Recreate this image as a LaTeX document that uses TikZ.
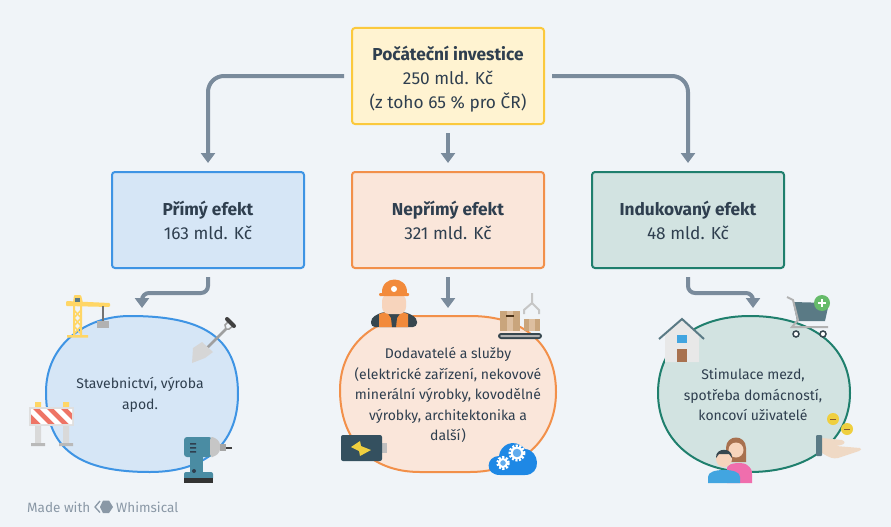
\documentclass[tikz,border=0pt]{standalone}
\usepackage{fontspec}
\setmainfont{Fira Sans}
\usetikzlibrary{arrows.meta,calc}
\definecolor{bg}{HTML}{F0F4F8}
\definecolor{ink}{HTML}{2F3F4F}
\definecolor{conn}{HTML}{7A8B9C}
\definecolor{slate}{HTML}{5A7A85}
\definecolor{peach}{HTML}{F7D4BC}
\definecolor{yb}{HTML}{FBC93D}\definecolor{yf}{HTML}{FFF3D1}
\definecolor{bb}{HTML}{3E94E4}\definecolor{bf}{HTML}{D6E6F6}
\definecolor{ob}{HTML}{F2904A}\definecolor{of}{HTML}{FAE6DA}
\definecolor{tb}{HTML}{1F7F6D}\definecolor{tf}{HTML}{D2E3E1}
\definecolor{crane}{HTML}{FFD666}
\definecolor{drill}{HTML}{4A8CA3}
\definecolor{barred}{HTML}{EE7465}
\definecolor{cloudc}{HTML}{1E88E5}
\definecolor{hair}{HTML}{A8714F}
\definecolor{pinkc}{HTML}{F06EAD}
\definecolor{bluec}{HTML}{42A5E0}
\definecolor{cardb}{HTML}{C9A57C}
\definecolor{tape}{HTML}{DDBFA0}
\definecolor{battc}{HTML}{34505F}
\definecolor{vest}{HTML}{F28A3B}
\definecolor{darkc}{HTML}{37474F}
\definecolor{greenc}{HTML}{66BB6A}
\definecolor{hand}{HTML}{EFD9C5}
\definecolor{coin}{HTML}{EFCF3F}
\definecolor{foot}{HTML}{8A98A6}
\tikzset{
  box/.style={draw,rounded corners=3pt,line width=2pt,minimum width=192pt,minimum height=96pt,inner sep=0pt,align=center,text=ink,font=\fontsize{17.3}{24}\selectfont},
  blobtext/.style={text=ink,align=center,inner sep=0pt,font=\fontsize{14}{20.5}\selectfont},
  blobline/.style={line width=2pt},
  link/.style={draw=conn,line width=4pt,rounded corners=16pt,-{Triangle[width=14pt,length=10pt]}},
  shortlink/.style={link,rounded corners=7pt},
  whim/.style={text=foot,font=\fontsize{13.5}{15}\selectfont,inner sep=0pt,anchor=west},
}
\begin{document}
\begin{tikzpicture}[x=1pt,y=-1pt]
\useasboundingbox (0,0) rectangle (891,527);
\fill[bg] (0,0) rectangle (891,527);
% boxes
\node[box,draw=yb,fill=yf] (top) at (448,76) {\rule{0pt}{20pt}\textbf{Počáteční investice}\\250 mld. Kč\\(z toho 65 \% pro ČR)};
\node[box,draw=bb,fill=bf] (prim) at (208,220) {\textbf{Přímý efekt}\\163 mld. Kč};
\node[box,draw=ob,fill=of] (nepr) at (448,220) {\textbf{Nepřímý efekt}\\321 mld. Kč};
\node[box,draw=tb,fill=tf] (indu) at (688,220) {\textbf{Indukovaný efekt}\\48 mld. Kč};
% blobs
\fill[bf,draw=bb,blobline] (46,392) .. controls (46,345) and (85,316) .. (130,316) .. controls (200,316) and (238,335) .. (238,394) .. controls (238,438) and (212,472) .. (150,472) .. controls (80,472) and (46,450) .. (46,392) -- cycle;
\fill[of,draw=ob,blobline] (340,390) .. controls (340,345) and (375,316) .. (420,316) -- (470,316) .. controls (525,316) and (556,345) .. (556,392) .. controls (556,440) and (520,472) .. (470,472) -- (420,472) .. controls (370,472) and (340,440) .. (340,390) -- cycle;
\fill[tf,draw=tb,blobline] (658,393) .. controls (658,345) and (695,316) .. (750,316) .. controls (810,316) and (850,345) .. (850,393) .. controls (850,440) and (810,472) .. (750,472) .. controls (695,472) and (658,440) .. (658,393) -- cycle;
\node[blobtext] (tL) at (140,395) {Stavebnictví, výroba\\apod.};
\node[blobtext] (tM) at (448,395) {Dodavatelé a služby~\\(elektrické zařízení, nekovové\\minerální výrobky, kovodělné\\výrobky, architektonika a~\\další)};
\node[blobtext] (tR) at (753,395) {Stimulace mezd,\\spotřeba domácností,\\koncoví uživatelé};
% connectors
\coordinate (endL) at (142,308);
\coordinate (endM) at (448,308);
\coordinate (endR) at (753,308);
\draw[link] ([xshift=-7pt]top.west) -| ([yshift=8pt]prim.north);
\draw[link] ([yshift=-8pt]top.south) -- ([yshift=8pt]nepr.north);
\draw[link] ([xshift=7pt]top.east) -| ([yshift=8pt]indu.north);
\draw[shortlink] ([yshift=-8pt]prim.south) |- ($(prim.south)+(-33,24)$) -| (endL);
\draw[link] ([yshift=-8pt]nepr.south) -- (endM);
\draw[shortlink] ([yshift=-8pt]indu.south) |- ($(indu.south)+(32,24)$) -| (endR);
% crane
\fill[crane] (73,305) rectangle (75,337) (80,305) rectangle (82,337) (67,335) rectangle (88,337.5);
\draw[crane,line width=1.5pt] (74,310)--(81,318)--(74,326)--(81,334) (81,310)--(74,318)--(81,326)--(74,334);
\fill[crane,rounded corners=1pt] (66,301) -- (110,303) -- (110,307) -- (66,306) -- cycle (73,303) -- (74,295) -- (81,295) -- (83,303) -- cycle;
\fill[slate] (75,298) rectangle (80,302);
\draw[gray!90!black,line width=1.5pt] (103,306) -- (103,322);
\fill[gray!60] (97,321) rectangle (109,328);
% shovel
\draw[gray!75,line width=2.5pt] (205,350) -- (226,329);
\draw[gray!75,line width=1.5pt] (226,329) -- (225,325) -- (229,321) -- (233,326) -- (229,329) -- cycle;
\draw[black!75,line width=4pt,line cap=round] (227,319) -- (234,326);
\fill[gray!32] (192,363) -- (193,348) -- (202,342) -- (213,352) -- (205,358) -- cycle;
% barrier
\fill[crane] (35,402) rectangle (41,407) (63,402) rectangle (69,407);
\fill[gray!30] (35,426) rectangle (41,443) (63,426) rectangle (69,443);
\fill[gray!55] (31,443) rectangle (45,446) (59,443) rectangle (73,446);
\fill[gray!25] (29,407) rectangle (74,426);
\fill[barred] (31,409) rectangle (72,424);
\begin{scope}
\clip (31,409) rectangle (72,424);
\foreach \s in {0,14,28,42}{\fill[white] (26+\s,409) -- (33+\s,409) -- (48+\s,424) -- (41+\s,424) -- cycle;}
\end{scope}
% drill
\fill[drill] (190,457) rectangle (203,472);
\fill[drill,rounded corners=2pt] (184,472) rectangle (213,480);
\fill[black!80] (184,478) rectangle (213,483);
\fill[drill,rounded corners=3pt] (184,437) rectangle (212,457);
\fill[gray!45,rounded corners=3pt] (210,437) -- (214,437) -- (220,442) -- (220,452) -- (214,457) -- (210,457) -- cycle;
\fill[gray!70] (220,444) rectangle (226,451);
\fill[black!75] (226,447) rectangle (232,448.5);
\fill[ink] (190,443) rectangle (196,444.5) (190,447) rectangle (196,448.5) (190,451) rectangle (196,452.5);
\fill[ink] (194,471) circle (2);
% worker
\fill[darkc,rounded corners=4pt] (371,327) -- (371,318) -- (382,312) -- (406,312) -- (417,318) -- (417,327) -- cycle;
\fill[vest] (379,327) -- (379,314) -- (386,312) -- (402,312) -- (408,314) -- (408,327) -- cycle;
\fill[darkc] (387,312) -- (401,312) -- (397,318) -- (396,327) -- (392,327) -- (391,318) -- cycle;
\fill[peach,rounded corners=7pt] (382,294) rectangle (406,314);
\fill[vest] (382,293) .. controls (381,275) and (408,275) .. (407,293) -- cycle;
\fill[vest,rounded corners=1pt] (379,293) rectangle (409,296);
\fill[white] (394,289) circle (3);
% boxes & claw
\draw[gray!45,line width=2pt] (532,293) -- (532,303) -- (524,310) -- (524,314) (532,303) -- (539,310) -- (539,314);
\fill[cardb] (500,311) rectangle (520,331);
\fill[tape] (507,311) rectangle (513,331);
\fill[black!60!brown] (506,315) rectangle (514,316.5);
\fill[cardb] (524,319) rectangle (540,331);
\fill[tape] (529,319) rectangle (535,331);
\fill[darkc,rounded corners=3pt] (498,333) rectangle (542,339);
\fill[gray!60,rounded corners=1pt] (500,335) rectangle (540,337);
% battery
\fill[gray!50] (382,443) rectangle (387,453);
\fill[battc,rounded corners=2pt] (341,435) rectangle (382,461);
\fill[coin] (351,447) -- (360,441) -- (361,446) -- (371,450) -- (360,456) -- (359,451) -- cycle;
% cloud
\fill[cloudc] (500,475) .. controls (484,475) and (486,456) .. (499,456) .. controls (500,445) and (514,437) .. (525,449) .. controls (540,450) and (542,475) .. (525,475) -- cycle;
\foreach \cx/\cy/\r in {503/463/4,517/453/5.5}{
  \draw[white,line width=3pt,dash pattern=on 2pt off 1.5pt] (\cx,\cy) circle (\r+1.5);
  \draw[white,line width=2pt,fill=cloudc!70!white] (\cx,\cy) circle (\r);
}
% house
\fill[gray!18] (665,333) -- (682,320) -- (699,333) -- (699,362) -- (665,362) -- cycle;
\draw[slate,line width=2pt] (659,339) -- (682,319) -- (704,339);
\fill[bluec] (677,335) rectangle (687,343);
\fill[hair] (677,349) rectangle (687,362);
% cart
\fill[slate] (793,302) -- (829,303) -- (825,321) -- (797,321) -- cycle;
\draw[gray!60,line width=2pt] (787,297) -- (793,300) -- (798,320) -- (792,327) -- (828,327);
\draw[darkc,line width=1.5pt,fill=white] (796,334) circle (3) (823,334) circle (3);
\fill[greenc] (822,303) circle (8);
\draw[white,line width=2pt] (818,303) -- (826,303) (822,299) -- (822,307);
% people
\fill[hair] (726,462) -- (726,448) .. controls (726,434) and (746,434) .. (746,448) -- (746,462) -- cycle;
\fill[peach] (736,450) circle (7.5);
\fill[pinkc] (727,483) -- (727,468) .. controls (727,462) and (745,462) .. (747,465) .. controls (751,468) and (752,470) .. (752,474) -- (752,483) -- cycle;
\fill[peach] (724,459) circle (8);
\fill[darkc] (716,458) .. controls (715,447) and (733,447) .. (732,458) -- (729,454) -- (719,454) -- cycle;
\fill[bluec] (708,483) -- (708,477) .. controls (708,472) and (715,470) .. (724,470) .. controls (733,470) and (740,472) .. (740,477) -- (740,483) -- cycle;
% hand
\fill[hand] (822,438) -- (842,440) .. controls (846,442) and (845,444) .. (841,445) -- (836,446) -- (860,448) .. controls (862,449) and (861,450) .. (859,451) -- (838,458) .. controls (833,459) and (830,458) .. (822,453) -- cycle;
\fill[slate,rounded corners=1pt] (816,435) rectangle (822,456);
\fill[coin] (833,419) circle (6) (847,429) circle (6);
\draw[brown!70!black,line width=1pt] (830,419) -- (836,419) (844,429) -- (850,429);
% footer
\node[whim] (made) at (27,507) {Made with};
\draw[foot,line width=1.3pt] (100,501) -- (95,507) -- (100,512.5);
\fill[foot] (103,500.5) -- (109,500.5) -- (113,507) -- (109,513) -- (103,513) -- (100,507) -- cycle;
\node[whim] (whi) at (116,507) {Whimsical};
\end{tikzpicture}
\end{document}
